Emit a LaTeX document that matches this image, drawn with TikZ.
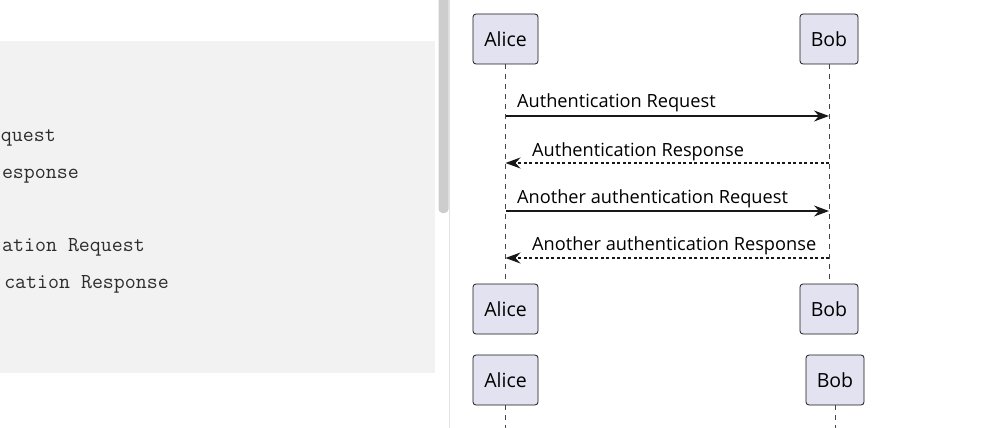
\documentclass[tikz,border=0pt]{standalone}
\usepackage{fontspec}
\setmainfont{Open Sans}
\usepackage{tikz}
\usetikzlibrary{arrows.meta,positioning,calc}
\definecolor{editorGray} {RGB}{242,242,242}
\definecolor{scrollGray} {RGB}{205,205,205}
\definecolor{sepGray}    {RGB}{225,225,225}
\definecolor{codeText}   {RGB}{45, 45, 45}
\definecolor{partFill}   {RGB}{226,226,240}
\definecolor{partLine}   {RGB}{24, 24, 24}

\tikzset{
  part/.style={draw=partLine,fill=partFill,rounded corners=3pt,line width=0.8pt,
               minimum height=50pt,inner sep=0pt,font=\fontsize{19.5}{22}\selectfont},
  lifeline/.style={partLine!80,line width=0.7pt,dash pattern=on 5pt off 5pt},
  request/.style={-{Stealth[length=15pt,width=11pt,inset=5pt]},line width=1.2pt,partLine},
  reply/.style={-{Stealth[length=15pt,width=11pt,inset=5pt]},line width=1.2pt,partLine,
                dash pattern=on 3pt off 2.5pt},
  msglabel/.style={anchor=base west,inner sep=0pt,font=\fontsize{18.2}{20}\selectfont},
  codeline/.style={anchor=base east,inner sep=0pt,codeText,
                   font=\ttfamily\fontsize{21.3}{24}\selectfont}
}

\begin{document}
\begin{tikzpicture}[x=1pt,y=-1pt]

    \useasboundingbox (0,0) rectangle (1005,428);
    \fill[white] (0,0) rectangle (1005,428);

    % ── EDITOR ─────────────────────────────────────────────
    \fill[editorGray] (0,41) rectangle (435,373);
    \node[codeline] (code1) at (56,141)  {quest};
    \node[codeline] (code2) at (79,178)  {esponse};
    \node[codeline] (code3) at (145,251) {ation Request};
    \node[codeline] (code4) at (169,288) {cation Response};

    % ── SCROLLBAR ──────────────────────────────────────────
    \fill[scrollGray,rounded corners=4pt] (438.5,-6) rectangle (448.5,213);
    \draw[sepGray,line width=1pt] (449.8,0) -- (449.8,428);

    % ── PARTICIPANTS ───────────────────────────────────────
    \node[part,minimum width=65pt] (alice) at (505.5,39){Alice};
    \node[part,minimum width=58pt] (bob)   at (829,39){Bob};

    \node[part,minimum width=65pt] (aliceEnd) at (505.5,309){Alice};
    \node[part,minimum width=58pt] (bobEnd)   at (829,309){Bob};

    \node[part,minimum width=65pt] (aliceNew) at (505.5,380){Alice};
    \node[part,minimum width=58pt] (bobNew)   at (835,380){Bob};

    % ── LIFELINES ──────────────────────────────────────────
    \draw[lifeline] (alice.south) -- (aliceEnd.north);
    \draw[lifeline] (bob.south) -- (bobEnd.north);
    \coordinate (aliceLow) at (505.5,432);
    \coordinate (bobLow)   at (835,432);
    \draw[lifeline] (aliceNew.south) -- (aliceLow);
    \draw[lifeline] (bobNew.south) -- (bobLow);

    % ── MESSAGES ───────────────────────────────────────────
    \draw[request] (alice |- 0,116) -- (bob |- 0,116);
    \node[msglabel] (req1) at (517,108){Authentication Request};

    \draw[reply] (bob |- 0,163) -- (alice |- 0,163);
    \node[msglabel] (rsp1) at (532,156){Authentication Response};

    \draw[request] (alice |- 0,211) -- (bob |- 0,211);
    \node[msglabel] (req2) at (517,203){Another authentication Request};

    \draw[reply] (bob |- 0,258) -- (alice |- 0,258);
    \node[msglabel] (rsp2) at (532,250){Another authentication Response};

  \end{tikzpicture}
\end{document}
